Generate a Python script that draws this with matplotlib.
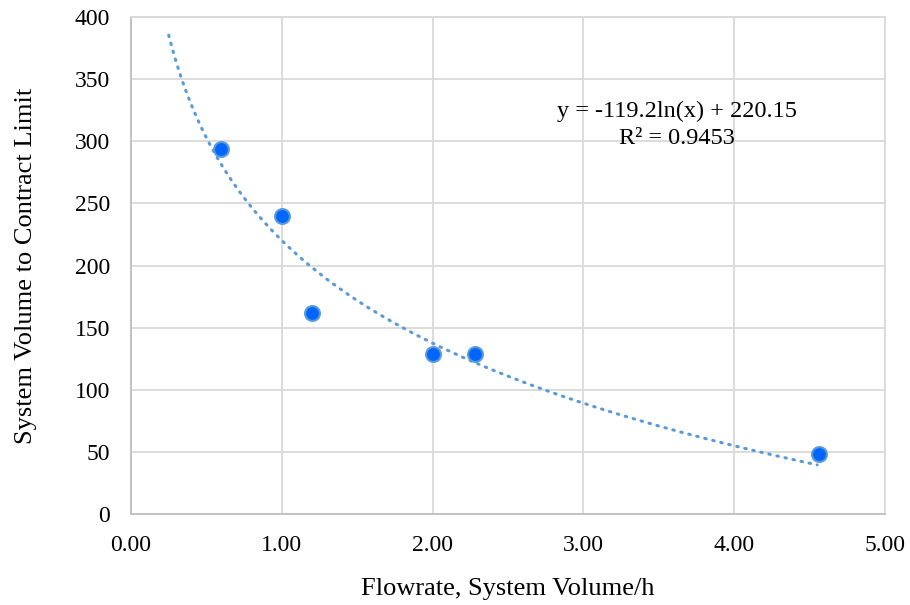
import numpy as np
import matplotlib.pyplot as plt

# data
flowrate = [0.60, 1.00, 1.20, 2.00, 2.28, 4.56]
volume = [294, 240, 162, 129, 129, 48]

# trendline shown on the chart: y = a*ln(x) + b
trend_a = -119.2
trend_b = 220.15
trend_r2 = 0.9453
trend_start = 0.25
trend_end = 4.55

xticks = [0, 1, 2, 3, 4, 5]
yticks = [0, 50, 100, 150, 200, 250, 300, 350, 400]

plt.rcParams['font.family'] = ['Liberation Serif', 'DejaVu Serif']

fig = plt.figure(figsize=(9.1, 6.05), dpi=100)
ax = fig.add_axes([131 / 910, 1 - 514 / 605, 754 / 910, 497 / 605])

xs = np.linspace(trend_start, trend_end, 200)
ax.plot(xs, trend_a * np.log(xs) + trend_b, color='#5b9bd5', lw=2.2,
        linestyle=(0, (0.5, 2.2)), dash_capstyle='round', zorder=2)

ax.scatter(flowrate, volume, s=115, color='#0066ff', edgecolors='#5b9bd5',
           linewidths=1.5, zorder=3)

ax.set_xlim(0, 5)
ax.set_ylim(0, 400)
ax.set_xticks(xticks)
ax.set_xticklabels(['%.2f' % t for t in xticks])
ax.set_yticks(yticks)
ax.grid(True, color='#d9d9d9', lw=1.3)
ax.set_axisbelow(True)
for s in ax.spines.values():
    s.set_color('#d9d9d9')
    s.set_linewidth(1.3)
ax.spines['left'].set_color('#bfbfbf')
ax.spines['bottom'].set_color('#bfbfbf')
ax.tick_params(length=0, labelsize=17, pad=15)

ax.set_xlabel('Flowrate, System Volume/h', fontsize=19, labelpad=16)
ax.set_ylabel('System Volume to Contract Limit', fontsize=19, labelpad=27)

ax.text(3.62, 313, 'y = %.1fln(x) + %.2f\nR² = %.4f' % (trend_a, trend_b, trend_r2),
        ha='center', va='center', fontsize=17.5, linespacing=1.35)

fig.savefig('out.png', dpi=100)
